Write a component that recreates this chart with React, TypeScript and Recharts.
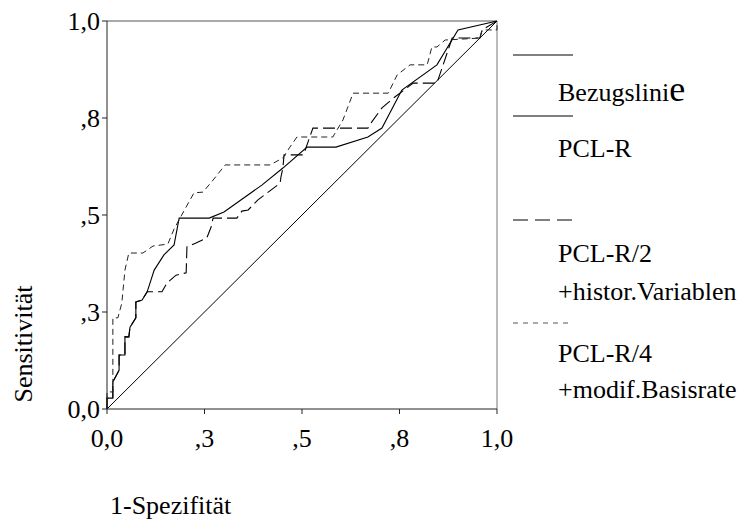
import { LineChart, Line, XAxis, YAxis, ReferenceLine, Legend, Label } from "recharts";

const FONT = "'Liberation Serif', 'Times New Roman', serif";

// axis ticks (both axes share them) and the SPSS-style labels
const axisTicks = [0, 0.25, 0.5, 0.75, 1];
const tickLabels = ["0,0", ",3", ",5", ",8", "1,0"];

// Bezugslinie (chance diagonal)
const diagFpr = [0, 1];
const diagTpr = [0, 1];

// PCL-R
const pclrFpr = [0, 0, 0.015, 0.015, 0.031, 0.031, 0.046, 0.046, 0.056, 0.059, 0.074, 0.074, 0.09, 0.103, 0.121, 0.146, 0.172, 0.185, 0.262, 0.3, 0.397, 0.451, 0.513, 0.587, 0.669, 0.705, 0.744, 0.756, 0.846, 0.9, 1];
const pclrTpr = [0, 0.028, 0.028, 0.07, 0.1, 0.139, 0.139, 0.186, 0.186, 0.211, 0.235, 0.276, 0.281, 0.302, 0.358, 0.397, 0.423, 0.492, 0.492, 0.508, 0.577, 0.621, 0.675, 0.675, 0.701, 0.724, 0.799, 0.822, 0.887, 0.977, 1];

// PCL-R/2 + historische Variablen
const histFpr = [0, 0, 0.015, 0.015, 0.031, 0.031, 0.046, 0.046, 0.056, 0.059, 0.074, 0.074, 0.09, 0.103, 0.141, 0.154, 0.177, 0.203, 0.205, 0.228, 0.256, 0.267, 0.272, 0.333, 0.346, 0.362, 0.387, 0.444, 0.446, 0.451, 0.454, 0.503, 0.508, 0.528, 0.669, 0.679, 0.705, 0.738, 0.785, 0.846, 0.885, 0.956, 0.962, 1];
const histTpr = [0, 0.028, 0.028, 0.07, 0.1, 0.139, 0.139, 0.186, 0.186, 0.211, 0.235, 0.276, 0.281, 0.302, 0.302, 0.325, 0.345, 0.351, 0.418, 0.428, 0.441, 0.469, 0.492, 0.492, 0.51, 0.513, 0.539, 0.582, 0.598, 0.621, 0.655, 0.655, 0.667, 0.724, 0.724, 0.74, 0.776, 0.804, 0.84, 0.84, 0.956, 0.956, 0.977, 1];

// PCL-R/4 + modifizierte Basisrate
const baseFpr = [0, 0, 0.015, 0.015, 0.028, 0.038, 0.046, 0.056, 0.092, 0.118, 0.156, 0.172, 0.197, 0.223, 0.246, 0.272, 0.303, 0.418, 0.451, 0.469, 0.487, 0.579, 0.605, 0.631, 0.721, 0.744, 0.777, 0.821, 0.833, 0.846, 0.867, 0.956, 0.962, 1, 1];
const baseTpr = [0, 0.044, 0.044, 0.235, 0.235, 0.273, 0.358, 0.402, 0.402, 0.42, 0.425, 0.464, 0.51, 0.557, 0.559, 0.59, 0.629, 0.629, 0.647, 0.675, 0.701, 0.701, 0.745, 0.814, 0.814, 0.861, 0.887, 0.887, 0.933, 0.933, 0.951, 0.956, 0.977, 0.977, 1];

const toPoints = (xs: number[], ys: number[]) => xs.map((x, i) => ({ x, y: ys[i] }));

const tickFmt = (v: number) => tickLabels[axisTicks.indexOf(v)] ?? String(v);

const textStyle = { fontFamily: FONT, fontSize: 26, fill: "#000" };

function RocLegend() {
  return (
    <svg width={237} height={370} style={{ display: "block", overflow: "visible" }}>
      <line x1={8} x2={68} y1={15} y2={15} stroke="#000" strokeWidth={1} />
      <text x={53} y={61} style={textStyle}>
        Bezugslini<tspan fontSize={36}>e</tspan>
      </text>
      <line x1={8} x2={68} y1={76} y2={76} stroke="#000" strokeWidth={1} />
      <text x={53} y={117} style={textStyle}>PCL-R</text>
      <line x1={8} x2={68} y1={180} y2={180} stroke="#000" strokeWidth={1} strokeDasharray="15 7" />
      <text x={53} y={222} style={textStyle}>PCL-R/2</text>
      <text x={53} y={260} style={textStyle}>+histor.Variablen</text>
      <line x1={8} x2={68} y1={283} y2={283} stroke="#555" strokeWidth={1} strokeDasharray="5 5" />
      <text x={53} y={322} style={textStyle}>PCL-R/4</text>
      <text x={53} y={358} style={textStyle}>+modif.Basisrate</text>
    </svg>
  );
}

export default function App() {
  return (
    <>
      <style>{`body { margin: 0; }`}</style>
      <LineChart width={742} height={519} margin={{ top: 21, right: 245, bottom: 80, left: 0 }}>
        <XAxis
          dataKey="x"
          type="number"
          domain={[0, 1]}
          ticks={axisTicks}
          interval={0}
          tickFormatter={tickFmt}
          height={30}
          stroke="#222"
          tickSize={5}
          tickMargin={15}
          tick={textStyle}
        >
          <Label
            content={() => (
              <text x={110} y={514} textAnchor="start" style={textStyle}>
                1-Spezifität
              </text>
            )}
          />
        </XAxis>
        <YAxis
          dataKey="y"
          type="number"
          domain={[0, 1]}
          ticks={axisTicks}
          interval={0}
          tickFormatter={tickFmt}
          width={107}
          stroke="#222"
          tickSize={5}
          tickMargin={2}
          tick={textStyle}
        >
          <Label
            content={() => (
              <text x={32} y={344} textAnchor="middle" transform="rotate(-90, 32, 344)" style={textStyle}>
                Sensitivität
              </text>
            )}
          />
        </YAxis>
        <ReferenceLine y={1} stroke="#555" strokeWidth={1} />
        <ReferenceLine x={1} stroke="#777" strokeWidth={1} />
        <Legend
          layout="horizontal"
          verticalAlign="middle"
          align="center"
          content={() => <RocLegend />}
          wrapperStyle={{ left: 505, top: 40, width: 237, height: 370 }}
        />
        <Line data={toPoints(diagFpr, diagTpr)} dataKey="y" name="Bezugslinie" type="linear" stroke="#000" strokeWidth={1} dot={false} activeDot={false} isAnimationActive={false} />
        <Line data={toPoints(pclrFpr, pclrTpr)} dataKey="y" name="PCL-R" type="linear" stroke="#000" strokeWidth={1.1} dot={false} activeDot={false} isAnimationActive={false} />
        <Line data={toPoints(histFpr, histTpr)} dataKey="y" name="PCL-R/2 +histor.Variablen" type="linear" stroke="#000" strokeWidth={1.1} strokeDasharray="12 5" dot={false} activeDot={false} isAnimationActive={false} />
        <Line data={toPoints(baseFpr, baseTpr)} dataKey="y" name="PCL-R/4 +modif.Basisrate" type="linear" stroke="#222" strokeWidth={1} strokeDasharray="6 4" dot={false} activeDot={false} isAnimationActive={false} />
      </LineChart>
    </>
  );
}
